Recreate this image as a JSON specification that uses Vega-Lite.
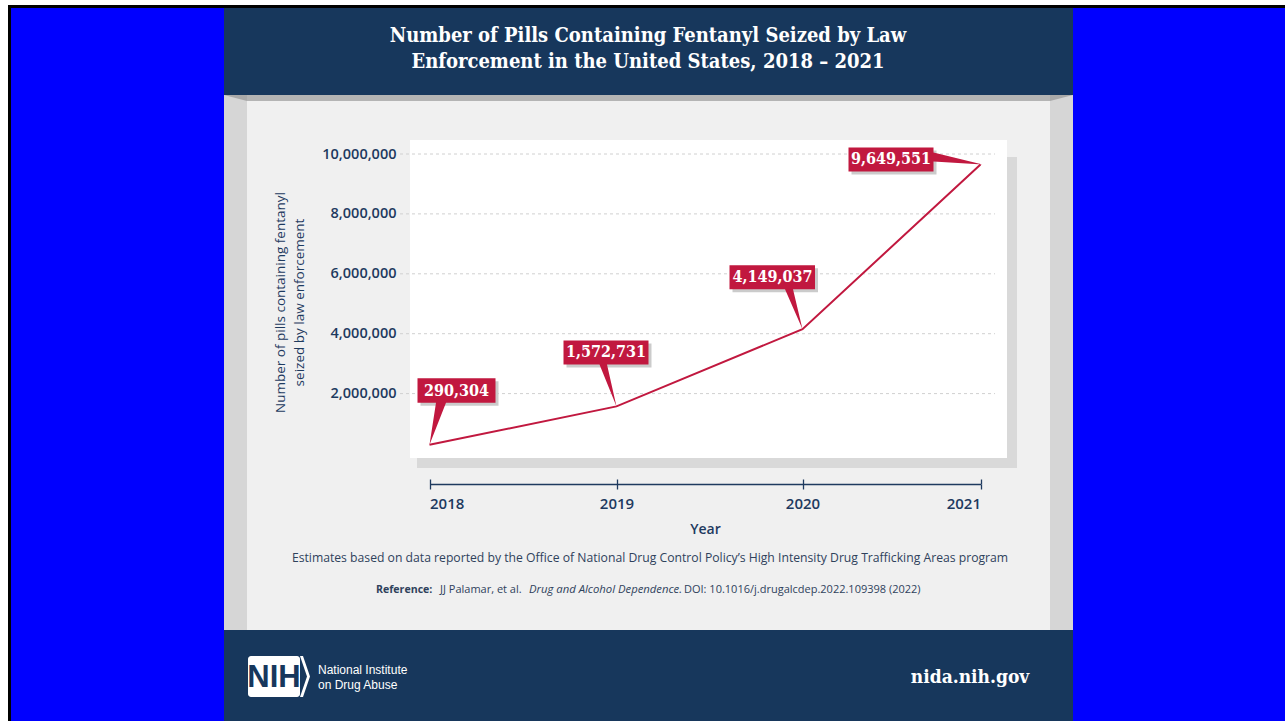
{
  "$schema": "https://vega.github.io/schema/vega-lite/v6.json",
  "width": 1285,
  "height": 721,
  "autosize": "none",
  "padding": 0,
  "background": "#ffffff",
  "config": {"view": {"stroke": null}},
  "datasets": {
    "seized": [
      {"year": 2018, "pills": 290304},
      {"year": 2019, "pills": 1572731},
      {"year": 2020, "pills": 4149037},
      {"year": 2021, "pills": 9649551}
    ],
    "ticks": [
      {"tick": 2000000},
      {"tick": 4000000},
      {"tick": 6000000},
      {"tick": 8000000},
      {"tick": 10000000}
    ],
    "one": [{}]
  },
  "resolve": {"scale": {"shape": "independent"}, "axis": {"x": "independent"}},
  "layer": [
    {
      "data": {"name": "one"},
      "mark": {"type": "rect", "color": "#000000"},
      "encoding": {"x": {"value": 8}, "x2": {"value": 1285}, "y": {"value": 5}, "y2": {"value": 721}}
    },
    {
      "data": {"name": "one"},
      "mark": {"type": "rect", "color": "#0000ff"},
      "encoding": {"x": {"value": 11}, "x2": {"value": 1285}, "y": {"value": 8}, "y2": {"value": 721}}
    },
    {
      "data": {"name": "one"},
      "mark": {"type": "rect", "color": "#d6d6d6"},
      "encoding": {"x": {"value": 224}, "x2": {"value": 1073}, "y": {"value": 95}, "y2": {"value": 630}}
    },
    {
      "data": {"name": "one"},
      "mark": {"type": "rect", "color": "#f0f0f0"},
      "encoding": {"x": {"value": 247}, "x2": {"value": 1050}, "y": {"value": 101}, "y2": {"value": 630}}
    },
    {
      "data": {"name": "one"},
      "mark": {"type": "rect", "color": "#b4b4b4"},
      "encoding": {"x": {"value": 247}, "x2": {"value": 1050}, "y": {"value": 95}, "y2": {"value": 101}}
    },
    {
      "data": {"name": "one"},
      "mark": {"type": "point", "filled": true, "size": 4, "opacity": 1, "strokeWidth": 0, "color": "#a9a9a9", "shape": "M0,0 L23,0 L23,6 Z"},
      "encoding": {"x": {"value": 224}, "y": {"value": 95}}
    },
    {
      "data": {"name": "one"},
      "mark": {"type": "point", "filled": true, "size": 4, "opacity": 1, "strokeWidth": 0, "color": "#a9a9a9", "shape": "M0,0 L-23,0 L-23,6 Z"},
      "encoding": {"x": {"value": 1073}, "y": {"value": 95}}
    },
    {
      "data": {"name": "one"},
      "mark": {"type": "rect", "color": "#17375c"},
      "encoding": {"x": {"value": 224}, "x2": {"value": 1073}, "y": {"value": 8}, "y2": {"value": 95}}
    },
    {
      "data": {"name": "one"},
      "mark": {"type": "rect", "color": "#17375c"},
      "encoding": {"x": {"value": 224}, "x2": {"value": 1073}, "y": {"value": 630}, "y2": {"value": 721}}
    },
    {
      "data": {"name": "one"},
      "mark": {"type": "rect", "color": "#d9d9d9"},
      "encoding": {"x": {"value": 417}, "x2": {"value": 1017}, "y": {"value": 157}, "y2": {"value": 468}}
    },
    {
      "data": {"name": "one"},
      "mark": {"type": "rect", "color": "#ffffff"},
      "encoding": {"x": {"value": 410}, "x2": {"value": 1007}, "y": {"value": 140}, "y2": {"value": 458}}
    },
    {
      "data": {"name": "ticks"},
      "mark": {"type": "rule", "color": "#d0d0d0", "strokeWidth": 1, "strokeDash": [3, 3]},
      "encoding": {
        "x": {"value": 400},
        "x2": {"value": 995},
        "y": {"field": "tick", "type": "quantitative", "scale": {"domain": [0, 10000000], "range": [453.5, 154], "nice": false}}
      }
    },
    {
      "data": {"name": "seized"},
      "mark": {"type": "line", "color": "#c1183f", "strokeWidth": 2, "strokeJoin": "miter"},
      "encoding": {
        "x": {
          "field": "year",
          "type": "quantitative",
          "scale": {"domain": [2018, 2019, 2020, 2021], "range": [429.5, 616.5, 802.5, 980.5], "nice": false, "zero": false},
          "axis": {
            "orient": "bottom",
            "offset": -237,
            "zindex": 1,
            "values": [2018, 2019, 2020, 2021],
            "format": "d",
            "grid": false,
            "domainColor": "#1e3a5f",
            "domainWidth": 1.3,
            "tickColor": "#1e3a5f",
            "tickWidth": 1.3,
            "tickSize": 5,
            "labelFont": "Open Sans",
            "labelFontSize": 15,
            "labelFontWeight": 600,
            "labelColor": "#1e3a5f",
            "labelPadding": 7,
            "title": "Year",
            "titleFont": "Open Sans",
            "titleFontSize": 14,
            "titleFontWeight": 600,
            "titleColor": "#1e3a5f",
            "titlePadding": 11
          }
        },
        "y": {
          "field": "pills",
          "type": "quantitative",
          "scale": {"domain": [0, 10000000], "range": [453.5, 154], "nice": false},
          "axis": {
            "orient": "left",
            "offset": -401,
            "zindex": 1,
            "values": [2000000, 4000000, 6000000, 8000000, 10000000],
            "format": ",d",
            "grid": false,
            "domain": false,
            "ticks": false,
            "labelPadding": 5,
            "labelFont": "Open Sans",
            "labelFontSize": 14.5,
            "labelFontWeight": 600,
            "labelColor": "#1e3a5f",
            "title": ["Number of pills containing fentanyl", "seized by law enforcement"],
            "titleFont": "Open Sans",
            "titleFontSize": 13.5,
            "titleFontWeight": 500,
            "titleColor": "#1e3a5f",
            "titleAngle": -90,
            "titleX": -121,
            "titleY": 302,
            "titleAlign": "center",
            "titleBaseline": "middle",
            "titleLineHeight": 19
          }
        }
      }
    },
    {
      "data": {"name": "seized"},
      "mark": {"type": "point", "filled": true, "size": 4, "opacity": 1, "strokeWidth": 0, "color": "#cbcbcb"},
      "encoding": {
        "x": {
          "field": "year",
          "type": "quantitative",
          "axis": {
            "orient": "top",
            "offset": -484,
            "zindex": 1,
            "values": [2018, 2019, 2020, 2021],
            "labels": false,
            "domain": false,
            "grid": false,
            "title": null,
            "tickColor": "#1e3a5f",
            "tickWidth": 1.3,
            "tickSize": 5
          }
        },
        "y": {"field": "pills", "type": "quantitative"},
        "shape": {
          "field": "year",
          "type": "nominal",
          "legend": null,
          "scale": {
            "domain": [2018, 2019, 2020, 2021],
            "range": [
              "M-9,-63.5 L69,-63.5 L69,-39 L-9,-39 Z",
              "M-50,-63 L35,-63 L35,-39 L-50,-39 Z",
              "M-70,-61 L15.5,-61 L15.5,-37 L-70,-37 Z",
              "M-129,-14 L-44,-14 L-44,10 L-129,10 Z"
            ]
          }
        }
      }
    },
    {
      "data": {"name": "seized"},
      "mark": {"type": "point", "filled": true, "size": 4, "opacity": 1, "strokeWidth": 0, "color": "#c1183f"},
      "encoding": {
        "x": {"field": "year", "type": "quantitative", "axis": null},
        "y": {"field": "pills", "type": "quantitative"},
        "shape": {
          "field": "year",
          "type": "nominal",
          "legend": null,
          "scale": {
            "domain": [2018, 2019, 2020, 2021],
            "range": [
              "M-12,-66.5 L66,-66.5 L66,-42 L16.5,-42 L0,0 L6.5,-42 L-12,-42 Z",
              "M-53,-66 L32,-66 L32,-42 L-9.5,-42 L0,0 L-17,-42 L-53,-42 Z",
              "M-73,-64 L12.5,-64 L12.5,-40 L-9.5,-40 L0,0 L-17.5,-40 L-73,-40 Z",
              "M-132,-17 L-47,-17 L-47,-12 L2,0 L-47,-3 L-47,7 L-132,7 Z"
            ]
          }
        }
      }
    },
    {
      "data": {"name": "seized"},
      "transform": [{"filter": "datum.year === 2018"}],
      "mark": {"type": "text", "dx": 27, "dy": -54, "align": "center", "baseline": "middle", "font": "DejaVu Serif Condensed, DejaVu Serif", "fontSize": 16, "fontWeight": "bold", "color": "#ffffff"},
      "encoding": {
        "x": {"field": "year", "type": "quantitative", "axis": null},
        "y": {"field": "pills", "type": "quantitative"},
        "text": {"field": "pills", "type": "quantitative", "format": ",d"}
      }
    },
    {
      "data": {"name": "seized"},
      "transform": [{"filter": "datum.year === 2019"}],
      "mark": {"type": "text", "dx": -10.5, "dy": -54, "align": "center", "baseline": "middle", "font": "DejaVu Serif Condensed, DejaVu Serif", "fontSize": 16, "fontWeight": "bold", "color": "#ffffff"},
      "encoding": {
        "x": {"field": "year", "type": "quantitative", "axis": null},
        "y": {"field": "pills", "type": "quantitative"},
        "text": {"field": "pills", "type": "quantitative", "format": ",d"}
      }
    },
    {
      "data": {"name": "seized"},
      "transform": [{"filter": "datum.year === 2020"}],
      "mark": {"type": "text", "dx": -30, "dy": -52, "align": "center", "baseline": "middle", "font": "DejaVu Serif Condensed, DejaVu Serif", "fontSize": 16, "fontWeight": "bold", "color": "#ffffff"},
      "encoding": {
        "x": {"field": "year", "type": "quantitative", "axis": null},
        "y": {"field": "pills", "type": "quantitative"},
        "text": {"field": "pills", "type": "quantitative", "format": ",d"}
      }
    },
    {
      "data": {"name": "seized"},
      "transform": [{"filter": "datum.year === 2021"}],
      "mark": {"type": "text", "dx": -89.5, "dy": -5, "align": "center", "baseline": "middle", "font": "DejaVu Serif Condensed, DejaVu Serif", "fontSize": 16, "fontWeight": "bold", "color": "#ffffff"},
      "encoding": {
        "x": {"field": "year", "type": "quantitative", "axis": null},
        "y": {"field": "pills", "type": "quantitative"},
        "text": {"field": "pills", "type": "quantitative", "format": ",d"}
      }
    },
    {
      "data": {"name": "one"},
      "mark": {
        "type": "text",
        "text": ["Number of Pills Containing Fentanyl Seized by Law", "Enforcement in the United States, 2018 – 2021"],
        "align": "center",
        "baseline": "middle",
        "lineHeight": 26,
        "font": "DejaVu Serif Condensed, DejaVu Serif",
        "fontSize": 20,
        "fontWeight": "bold",
        "color": "#ffffff"
      },
      "encoding": {"x": {"value": 648}, "y": {"value": 36}}
    },
    {
      "data": {"name": "one"},
      "mark": {
        "type": "text",
        "text": "Estimates based on data reported by the Office of National Drug Control Policy’s High Intensity Drug Trafficking Areas program",
        "align": "center",
        "baseline": "middle",
        "font": "Open Sans",
        "fontSize": 12.2,
        "color": "#2f425c"
      },
      "encoding": {"x": {"value": 650}, "y": {"value": 558}}
    },
    {
      "data": {"name": "one"},
      "mark": {"type": "text", "text": "Reference:", "align": "left", "baseline": "middle", "font": "Open Sans", "fontSize": 10.6, "fontWeight": "bold", "color": "#2f425c"},
      "encoding": {"x": {"value": 376}, "y": {"value": 590}}
    },
    {
      "data": {"name": "one"},
      "mark": {"type": "text", "text": "JJ Palamar, et al.", "align": "left", "baseline": "middle", "font": "Open Sans", "fontSize": 11, "color": "#2f425c"},
      "encoding": {"x": {"value": 440}, "y": {"value": 590}}
    },
    {
      "data": {"name": "one"},
      "mark": {"type": "text", "text": "Drug and Alcohol Dependence.", "align": "left", "baseline": "middle", "font": "Open Sans", "fontSize": 11.3, "fontStyle": "italic", "color": "#2f425c"},
      "encoding": {"x": {"value": 529}, "y": {"value": 590}}
    },
    {
      "data": {"name": "one"},
      "mark": {"type": "text", "text": "DOI: 10.1016/j.drugalcdep.2022.109398 (2022)", "align": "left", "baseline": "middle", "font": "Open Sans", "fontSize": 11, "color": "#2f425c"},
      "encoding": {"x": {"value": 684}, "y": {"value": 590}}
    },
    {
      "data": {"name": "one"},
      "mark": {"type": "rect", "color": "#ffffff", "cornerRadius": 3},
      "encoding": {"x": {"value": 248}, "x2": {"value": 300}, "y": {"value": 656}, "y2": {"value": 697}}
    },
    {
      "data": {"name": "one"},
      "mark": {"type": "point", "filled": true, "size": 4, "opacity": 1, "strokeWidth": 0, "color": "#ffffff", "shape": "M-3,-20.5 L0,-20.5 L7,0 L0,20.5 L-3,20.5 L4,0 Z"},
      "encoding": {"x": {"value": 303}, "y": {"value": 676.5}}
    },
    {
      "data": {"name": "one"},
      "mark": {"type": "text", "text": "NIH", "align": "center", "baseline": "middle", "font": "Liberation Sans Narrow, Liberation Sans", "fontSize": 31, "fontWeight": "bold", "color": "#17375c", "dy": 1},
      "encoding": {"x": {"value": 274}, "y": {"value": 676.5}}
    },
    {
      "data": {"name": "one"},
      "mark": {"type": "text", "text": ["National Institute", "on Drug Abuse"], "align": "left", "baseline": "middle", "lineHeight": 15, "font": "Liberation Sans Narrow, Liberation Sans", "fontSize": 12, "color": "#ffffff"},
      "encoding": {"x": {"value": 318}, "y": {"value": 670}}
    },
    {
      "data": {"name": "one"},
      "mark": {"type": "text", "text": "nida.nih.gov", "align": "center", "baseline": "middle", "font": "DejaVu Serif Condensed, DejaVu Serif", "fontSize": 19, "fontWeight": "bold", "color": "#ffffff"},
      "encoding": {"x": {"value": 970}, "y": {"value": 677}}
    }
  ]
}
